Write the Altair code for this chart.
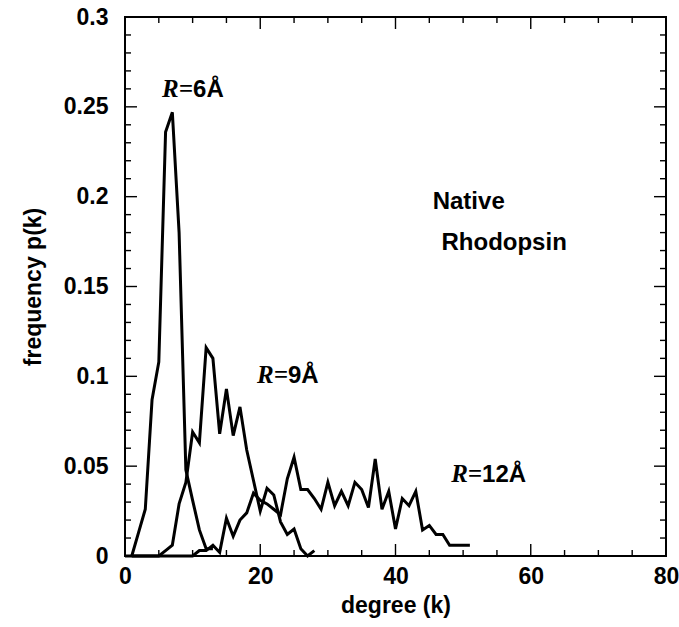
import altair as alt
import pandas as pd

# ---- data ----
k6 = list(range(1, 14))
p6 = [0.0, 0.013, 0.026, 0.087, 0.108, 0.236, 0.247, 0.18, 0.048, 0.031, 0.0145, 0.004, 0.004]

k9 = list(range(1, 29))
p9 = [0.0, 0.0, 0.0, 0.0, 0.0, 0.003, 0.006, 0.029, 0.041, 0.069, 0.063, 0.116, 0.11, 0.068,
      0.093, 0.067, 0.083, 0.059, 0.042, 0.025, 0.0377, 0.034, 0.019, 0.012, 0.015, 0.004,
      0.0, 0.003]

k12 = list(range(0, 52))
p12 = [0.0] * 11 + [0.003, 0.003, 0.006, 0.002, 0.021, 0.011, 0.020, 0.024, 0.035, 0.031,
                    0.029, 0.026, 0.023, 0.043, 0.055, 0.037, 0.037, 0.032, 0.026, 0.041,
                    0.028, 0.036, 0.028, 0.041, 0.037, 0.027, 0.054, 0.026, 0.036, 0.015,
                    0.032, 0.028, 0.036, 0.0145, 0.017, 0.012, 0.012, 0.006, 0.006, 0.006,
                    0.006]

series_names = ["R=6", "R=9", "R=12"]

# annotations (text, anchor k, anchor p)
lab_serif = ["R=", "R=", "R="]
lab_sans = ["6Å", "9Å", "12Å"]
lab_k = [10.06, 24.1, 52.8]
lab_p = [0.2556, 0.0961, 0.0414]

note_text = ["Native", "Rhodopsin"]
note_k = [45.5, 46.8]
note_p = [0.1931, 0.1703]

x_label_values = [0, 20, 40, 60, 80]
y_label_values = [0, 0.05, 0.1, 0.15, 0.2, 0.25, 0.3]
x_major_ticks = [0, 20, 40, 60, 80]
x_minor_ticks = [v for v in range(0, 81, 5) if v % 20 != 0]
y_major_ticks = [0, 0.05, 0.1, 0.15, 0.2, 0.25, 0.3]
y_minor_ticks = [round(i * 0.01, 2) for i in range(31) if i % 5 != 0]

# ---- build tables ----
rows = []
for name, ks, ps in zip(series_names, [k6, k9, k12], [p6, p9, p12]):
    rows += [{"series": name, "k": k, "p": p} for k, p in zip(ks, ps)]
df = pd.DataFrame(rows)

lab_df = pd.DataFrame({"serif": lab_serif, "sans": lab_sans, "k": lab_k, "p": lab_p})
note_df = pd.DataFrame({"t": note_text, "k": note_k, "p": note_p})

W, H = 541, 539
FONT = "Liberation Sans"
FS = 23
MAJ, MIN = 12, 6          # tick lengths in pixels
X0, X1 = 0, 80
Y0, Y1 = 0, 0.3

xs = alt.Scale(domain=[X0, X1], nice=False, zero=False)
ys = alt.Scale(domain=[Y0, Y1], nice=False, zero=False)

x_axis = alt.Axis(
    values=x_label_values, ticks=False, domain=False, title="degree (k)",
    labelFont=FONT, labelFontWeight="bold", labelFontSize=FS, labelColor="black",
    labelPadding=9, labelFlush=False,
    titleFont=FONT, titleFontWeight="bold", titleFontSize=FS, titleColor="black",
    titlePadding=6, grid=False)
y_axis = alt.Axis(
    values=y_label_values, ticks=False, domain=False, title="frequency p(k)",
    labelExpr="'' + datum.value",
    labelFont=FONT, labelFontWeight="bold", labelFontSize=FS, labelColor="black",
    labelPadding=17, labelFlush=False,
    titleFont=FONT, titleFontWeight="bold", titleFontSize=FS, titleColor="black",
    titlePadding=18, grid=False)


def x_ticks(values, size, at_top):
    d = pd.DataFrame({"k": values})
    L = size * (Y1 - Y0) / H
    a, b = (Y1, Y1 - L) if at_top else (Y0, Y0 + L)
    return alt.Chart(d).mark_rule(color="black", strokeWidth=1.4).encode(
        x=alt.X("k:Q", scale=xs, axis=None),
        y=alt.YDatum(a, scale=ys, axis=None),
        y2=alt.Y2Datum(b),
    )


def y_ticks(values, size, at_right):
    d = pd.DataFrame({"p": values})
    L = size * (X1 - X0) / W
    a, b = (X1, X1 - L) if at_right else (X0, X0 + L)
    return alt.Chart(d).mark_rule(color="black", strokeWidth=1.4).encode(
        y=alt.Y("p:Q", scale=ys, axis=None),
        x=alt.XDatum(a, scale=xs, axis=None),
        x2=alt.X2Datum(b),
    )


tick_layers = [
    x_ticks(x_major_ticks, MAJ, False), x_ticks(x_minor_ticks, MIN, False),
    x_ticks(x_major_ticks, MAJ, True), x_ticks(x_minor_ticks, MIN, True),
    y_ticks(y_major_ticks, MAJ, False), y_ticks(y_minor_ticks, MIN, False),
    y_ticks(y_major_ticks, MAJ, True), y_ticks(y_minor_ticks, MIN, True),
]

lines = alt.Chart(df).mark_line(color="black", strokeWidth=3).encode(
    x=alt.X("k:Q", scale=xs, axis=x_axis),
    y=alt.Y("p:Q", scale=ys, axis=y_axis),
    detail="series:N",
)

serif_txt = alt.Chart(lab_df).mark_text(
    font="Liberation Serif", fontStyle="italic", fontWeight="bold", fontSize=25,
    align="right", baseline="alphabetic", color="black").encode(
    x=alt.X("k:Q", scale=xs, axis=None), y=alt.Y("p:Q", scale=ys, axis=None),
    text="serif:N")

sans_txt = alt.Chart(lab_df).mark_text(
    font=FONT, fontWeight="bold", fontSize=24,
    align="left", baseline="alphabetic", color="black").encode(
    x=alt.X("k:Q", scale=xs, axis=None), y=alt.Y("p:Q", scale=ys, axis=None),
    text="sans:N")

note_txt = alt.Chart(note_df).mark_text(
    font=FONT, fontWeight="bold", fontSize=24,
    align="left", baseline="alphabetic", color="black").encode(
    x=alt.X("k:Q", scale=xs, axis=None), y=alt.Y("p:Q", scale=ys, axis=None),
    text="t:N")

chart = alt.layer(
    lines, *tick_layers, serif_txt, sans_txt, note_txt
).resolve_scale(x="independent", y="independent").properties(
    width=W, height=H,
    autosize=alt.AutoSizeParams(type="none"),
    padding={"left": 125, "top": 17, "right": 13, "bottom": 71},
    background="white",
).configure_view(stroke="black", strokeWidth=2)

chart.save("out.html", embed_options={"renderer": "svg", "actions": False})
